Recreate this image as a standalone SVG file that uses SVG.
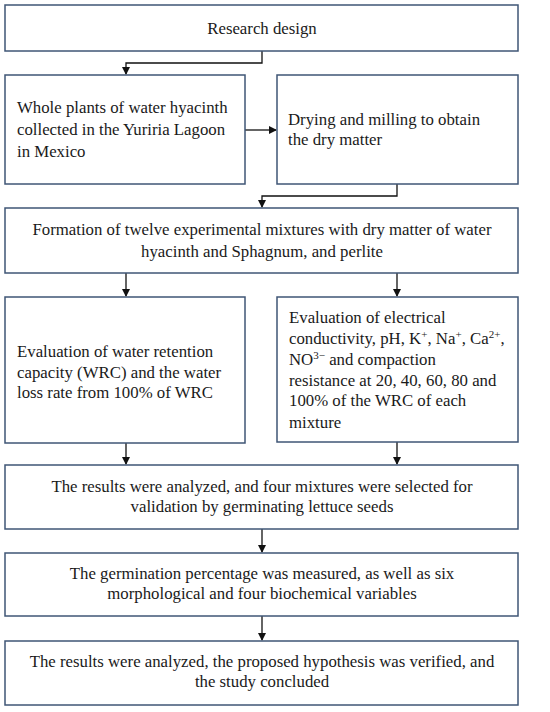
<svg xmlns="http://www.w3.org/2000/svg" width="550" height="712" viewBox="0 0 550 712">
<style>
.box{fill:#fff;stroke:#3f5676;stroke-width:1.5}
.t{font-family:"Liberation Serif","DejaVu Serif",serif;font-size:16.8px;fill:#1a1a1a}
.c{text-anchor:middle}
.ln{fill:none;stroke:#111;stroke-width:1.3}
</style>
<defs>
<marker id="ah" markerWidth="8" markerHeight="8" refX="7" refY="4" orient="auto" markerUnits="userSpaceOnUse">
<path d="M0,0 L8,4 L0,8 z" fill="#111"/>
</marker>
</defs>
<rect width="550" height="712" fill="#fff"/>
<g id="connectors">
<path class="ln" d="M262,51 V63 H126 V74" marker-end="url(#ah)"/>
<path class="ln" d="M245,130 H276" marker-end="url(#ah)"/>
<path class="ln" d="M397,184 V196 H262 V207" marker-end="url(#ah)"/>
<path class="ln" d="M126,273 V296" marker-end="url(#ah)"/>
<path class="ln" d="M397,273 V296" marker-end="url(#ah)"/>
<path class="ln" d="M126,443 V464" marker-end="url(#ah)"/>
<path class="ln" d="M397,442 V464" marker-end="url(#ah)"/>
<path class="ln" d="M262,529 V552" marker-end="url(#ah)"/>
<path class="ln" d="M262,616 V640" marker-end="url(#ah)"/>
</g>
<g id="n1">
<rect class="box" x="5" y="5" width="513" height="46"/>
<text class="t c" x="262" y="34">Research design</text>
</g>
<g id="n2">
<rect class="box" x="5" y="75" width="240" height="109"/>
<text class="t" x="17" y="113">Whole plants of water hyacinth</text>
<text class="t" x="17" y="135">collected in the Yuriria Lagoon</text>
<text class="t" x="17" y="157">in Mexico</text>
</g>
<g id="n3">
<rect class="box" x="277" y="75" width="241" height="109"/>
<text class="t" x="288" y="125">Drying and milling to obtain</text>
<text class="t" x="288" y="145">the dry matter</text>
</g>
<g id="n4">
<rect class="box" x="5" y="208" width="513" height="65"/>
<text class="t c" x="262" y="235">Formation of twelve experimental mixtures with dry matter of water</text>
<text class="t c" x="262" y="257">hyacinth and Sphagnum, and perlite</text>
</g>
<g id="n5">
<rect class="box" x="5" y="297" width="240" height="146"/>
<text class="t" x="17" y="357">Evaluation of  water retention</text>
<text class="t" x="17" y="378">capacity (WRC) and the water</text>
<text class="t" x="17" y="398">loss rate from 100% of WRC</text>
</g>
<g id="n6">
<rect class="box" x="277" y="297" width="241" height="145"/>
<text class="t" x="289" y="323">Evaluation of electrical</text>
<text class="t" x="289" y="344">conductivity, pH, K<tspan font-size="11" dy="-6">+</tspan><tspan dy="6">, Na</tspan><tspan font-size="11" dy="-6">+</tspan><tspan dy="6">, Ca</tspan><tspan font-size="11" dy="-6">2+</tspan><tspan dy="6">,</tspan></text>
<text class="t" x="289" y="365">NO<tspan font-size="11" dy="-6">3−</tspan><tspan dy="6"> and compaction</tspan></text>
<text class="t" x="289" y="386">resistance at 20, 40, 60, 80 and</text>
<text class="t" x="289" y="406">100% of  the WRC of each</text>
<text class="t" x="289" y="428">mixture</text>
</g>
<g id="n7">
<rect class="box" x="5" y="465" width="513" height="64"/>
<text class="t c" x="262" y="492">The  results were analyzed, and four mixtures were selected  for</text>
<text class="t c" x="262" y="512">validation by germinating lettuce seeds</text>
</g>
<g id="n8">
<rect class="box" x="5" y="553" width="513" height="63"/>
<text class="t c" x="262" y="579">The  germination percentage was measured, as well as six</text>
<text class="t c" x="262" y="599">morphological and four biochemical variables</text>
</g>
<g id="n9">
<rect class="box" x="5" y="641" width="513" height="64"/>
<text class="t c" x="262" y="667">The  results were analyzed, the proposed hypothesis was verified, and</text>
<text class="t c" x="262" y="687">the study concluded</text>
</g>
</svg>
